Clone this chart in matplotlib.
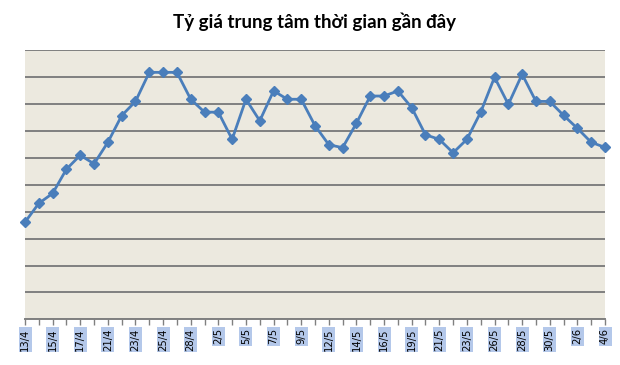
import matplotlib
matplotlib.use("Agg")
import matplotlib.pyplot as plt

# ngay (chi hien nhan cho moi ngay thu hai)
ngay = ['13/4', '14/4', '15/4', '16/4', '17/4', '20/4', '21/4', '22/4', '23/4', '24/4',
        '25/4', '26/4', '28/4', '29/4', '2/5', '3/5', '5/5', '6/5', '7/5', '8/5',
        '9/5', '10/5', '12/5', '13/5', '14/5', '15/5', '16/5', '17/5', '19/5', '20/5',
        '21/5', '22/5', '23/5', '24/5', '26/5', '27/5', '28/5', '29/5', '30/5', '31/5',
        '2/6', '3/6', '4/6']
# gia tri doc tu hinh (don vi = khoang luoi)
ty_gia = [3.61, 4.31, 4.68, 5.58, 6.10, 5.78, 6.58, 7.57, 8.10, 9.18,
          9.18, 9.18, 8.18, 7.70, 7.70, 6.69, 8.18, 7.38, 8.49, 8.18,
          8.18, 7.20, 6.49, 6.38, 7.29, 8.30, 8.30, 8.49, 7.87, 6.86,
          6.69, 6.19, 6.69, 7.70, 9.00, 7.99, 9.11, 8.10, 8.10, 7.58,
          7.10, 6.58, 6.39]

fig = plt.figure(figsize=(6.2, 3.65), dpi=100)
ax = fig.add_axes([25/620, 1 - 319.3/365, 580/620, 269/365])
ax.set_facecolor('#ece9df')

x = list(range(len(ty_gia)))
ax.plot(x, ty_gia, color='#4a7ebb', linewidth=2, marker='D', markersize=5.5,
        markeredgecolor='#4a7ebb', zorder=3, clip_on=False)

ax.set_xlim(0, len(ty_gia) - 1)
ax.set_ylim(0, 10)
ax.set_yticks(range(0, 11))
ax.yaxis.grid(True, color='#808080', linewidth=1.4)
ax.set_axisbelow(True)
ax.tick_params(axis='y', left=False, labelleft=False)

for s in ['left', 'top', 'right']:
    ax.spines[s].set_visible(False)
ax.spines['bottom'].set_color('#808080')
ax.spines['bottom'].set_linewidth(1.4)

ax.set_xticks(x)
ax.set_xticklabels([d if i % 2 == 0 else '' for i, d in enumerate(ngay)],
                   rotation=90, fontsize=7.2, family='DejaVu Sans')
ax.tick_params(axis='x', length=4, width=1, color='#808080', pad=2.5)
for lb in ax.get_xticklabels():
    lb.set_bbox(dict(facecolor='#b4c8ea', edgecolor='none', pad=1.1))

fig.text(0.508, 1 - 22/365, 'Tỷ giá trung tâm thời gian gần đây', ha='center', va='center',
         fontsize=13.5, fontweight='bold', family='Lato')

fig.savefig('out.png', dpi=100)
